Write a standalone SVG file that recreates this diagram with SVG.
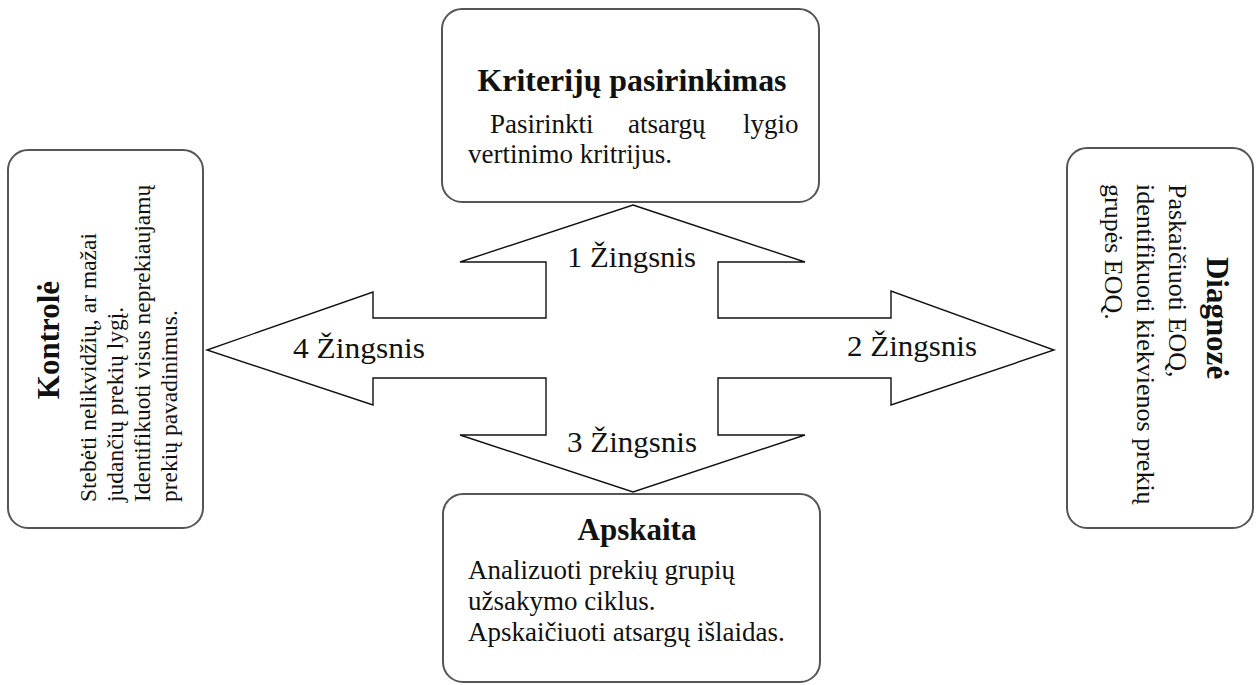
<svg xmlns="http://www.w3.org/2000/svg" width="1256" height="685" viewBox="0 0 1256 685">
<style>
.box{fill:#fff;stroke:#555;stroke-width:2}
.arrow{fill:#fff;stroke:#111;stroke-width:1.4;stroke-linejoin:miter}
text{font-family:"Liberation Serif","Times New Roman",serif;fill:#111}
.title{font-weight:bold;font-size:31px}
.body{font-size:27px}
.rbody{font-size:26px}
.small{font-size:23.5px}
.step{font-size:30px}
</style>
<rect width="1256" height="685" fill="#fff"/>
<g id="connectors">
<path class="arrow" d="M633,205 L805,262 L718,262 L718,318 L891,318 L891,291 L1054,350 L891,405 L891,378 L718,378 L718,435 L805,435 L633,492 L460,435 L546,435 L546,378 L373,378 L373,405 L207,350 L373,292 L373,318 L546,318 L546,262 L460,262 Z"/>
<text class="step" x="567" y="267" textLength="129" lengthAdjust="spacingAndGlyphs">1 Žingsnis</text>
<text class="step" x="847" y="356" textLength="130" lengthAdjust="spacingAndGlyphs">2 Žingsnis</text>
<text class="step" x="567" y="452" textLength="130" lengthAdjust="spacingAndGlyphs">3 Žingsnis</text>
<text class="step" x="293" y="358" textLength="132" lengthAdjust="spacingAndGlyphs">4 Žingsnis</text>
</g>
<g id="node-kriteriju">
<rect class="box" x="442" y="9" width="377" height="193" rx="20"/>
<text class="title" x="632" y="91" text-anchor="middle" textLength="309" lengthAdjust="spacingAndGlyphs">Kriterijų pasirinkimas</text>
<text class="body" y="133"><tspan x="490">Pasirinkti</tspan><tspan x="628">atsargų</tspan><tspan x="743">lygio</tspan></text>
<text class="body" x="468" y="163">vertinimo kritrijus.</text>
</g>
<g id="node-kontrole">
<rect class="box" x="8" y="150" width="195" height="378" rx="20"/>
<text class="title" transform="translate(59,340) rotate(-90)" text-anchor="middle">Kontrolė</text>
<text class="small" transform="translate(96,502) rotate(-90)"><tspan x="0">Stebėti nelikvidžių,</tspan><tspan x="269" text-anchor="end">ar mažai</tspan></text>
<text class="small" transform="translate(123,502) rotate(-90)">judančių prekių lygį.</text>
<text class="small" transform="translate(150,502) rotate(-90)">Identifikuoti visus neprekiaujamų</text>
<text class="small" transform="translate(177,502) rotate(-90)">prekių pavadinimus.</text>
</g>
<g id="node-diagnoze">
<rect class="box" x="1067" y="148" width="186" height="380" rx="20"/>
<text class="title" transform="translate(1207,318) rotate(90)" text-anchor="middle">Diagnozė</text>
<text class="rbody" transform="translate(1169,184) rotate(90)">Paskaičiuoti EOQ,</text>
<text class="rbody" transform="translate(1137,184) rotate(90)">identifikuoti kiekvienos prekių</text>
<text class="rbody" transform="translate(1105,184) rotate(90)">grupės EOQ.</text>
</g>
<g id="node-apskaita">
<rect class="box" x="443" y="494" width="377" height="188" rx="20"/>
<text class="title" x="637" y="540" text-anchor="middle">Apskaita</text>
<text class="body" x="468" y="579">Analizuoti prekių grupių</text>
<text class="body" x="468" y="610">užsakymo ciklus.</text>
<text class="body" x="468" y="641">Apskaičiuoti atsargų išlaidas.</text>
</g>
</svg>
